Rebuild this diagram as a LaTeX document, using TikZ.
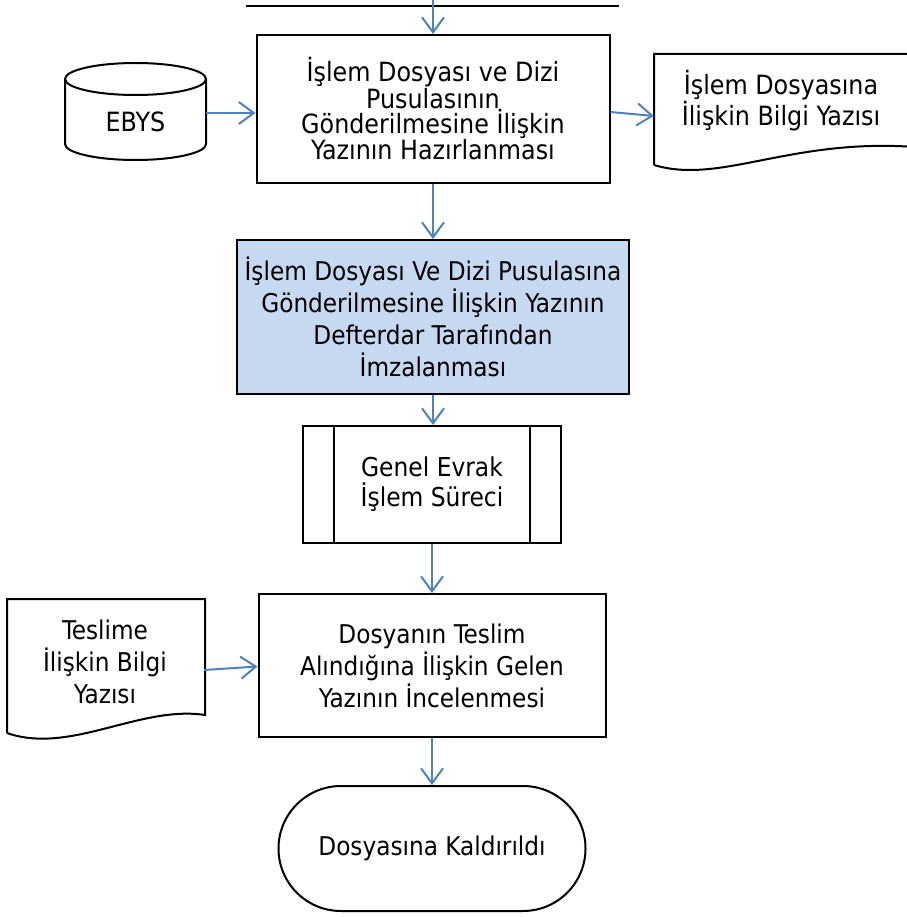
\documentclass[tikz,border=0pt]{standalone}
\usepackage{fontspec}
\setmainfont{DejaVu Sans Condensed}
\usepackage{xcolor}
\usetikzlibrary{arrows.meta,shapes.misc}
\definecolor{flowblue}{RGB}{79,129,189}
\definecolor{signfill}{RGB}{198,217,241}
\tikzset{
  stepbox/.style={draw,line width=2pt,align=center,inner sep=0pt},
  flow/.style={draw=flowblue,line width=2pt,-{Straight Barb[length=15pt,width=22pt]}},
  outline/.style={line width=2pt},
  wide/.style={font=\fontsize{25.8}{32}\selectfont},
  tight/.style={font=\fontsize{26.5}{25}\selectfont},
}

\begin{document}
\begin{tikzpicture}[x=1pt,y=1pt]
  \useasboundingbox (0,0) rectangle (906,-917);
  % line above the first step
  \coordinate (linel) at (246,-6);
  \coordinate (liner) at (619,-6);
  \coordinate (start) at (433,0);
  \draw[line width=1.5pt] (linel) -- (liner);

  % main column
  \node[stepbox,tight,minimum width=353,minimum height=148] (prepare) at (433,-109)
    {İşlem Dosyası ve Dizi\\Pusulasının\\Gönderilmesine İlişkin\\Yazının Hazırlanması};
  \node[stepbox,wide,fill=signfill,minimum width=392,minimum height=154] (sign) at (433,-317)
    {İşlem Dosyası Ve Dizi Pusulasına\\Gönderilmesine İlişkin Yazının\\Defterdar Tarafından\\İmzalanması};
  \node[stepbox,font=\fontsize{26}{30}\selectfont,minimum width=258,minimum height=117] (general) at (432,-484.5)
    {Genel Evrak\\İşlem Süreci};
  \draw[outline] ([xshift=32]general.north west) -- ([xshift=32]general.south west);
  \draw[outline] ([xshift=-32]general.north east) -- ([xshift=-32]general.south east);
  \node[stepbox,wide,minimum width=347,minimum height=143] (review) at (432,-665.5)
    {Dosyanın Teslim\\Alındığına İlişkin Gelen\\Yazının İncelenmesi};
  \node[stepbox,wide,rounded rectangle,minimum width=307,minimum height=125] (done) at (432,-848.5)
    {Dosyasına Kaldırıldı};

  % EBYS store
  \node[font=\fontsize{26.5}{30}\selectfont,minimum width=141] (ebys) at (135.5,-122) {EBYS};
  \draw[outline] (65,-79) -- (65,-144) arc[start angle=180,end angle=360,x radius=70.5,y radius=16] -- (206,-79);
  \draw[outline] (135.5,-79) ellipse[x radius=70.5,y radius=16];

  % documents
  \node[tight,align=center,minimum width=254] (infodoc) at (781,-101)
    {İşlem Dosyasına\\İlişkin Bilgi Yazısı};
  \draw[outline] (654,-165) -- (654,-54) -- (915,-54) -- (915,-147)
    .. controls (790,-138) and (720,-185) .. (654,-165);
  \node[wide,align=center,minimum width=198] (receipt) at (105,-662)
    {Teslime\\İlişkin Bilgi\\Yazısı};
  \draw[outline] (7,-733) -- (7,-599) -- (205,-599) -- (205,-715)
    .. controls (140,-705) and (70,-755) .. (7,-733);

  % connectors
  \draw[flow] (start) -- (prepare.north);
  \draw[flow] ([yshift=9]ebys.east) -- ([yshift=-4]prepare.west);
  \draw[flow] ([yshift=-3]prepare.east) -- ([yshift=-15]infodoc.west);
  \draw[flow] (prepare.south) -- (prepare.south |- sign.north);
  \draw[flow] (sign.south) -- (sign.south |- general.north);
  \draw[flow] (general.south) -- (review.north);
  \draw[flow] ([yshift=-8]receipt.east) -- ([yshift=-1]review.west);
  \draw[flow] (review.south) -- (done.north);
\end{tikzpicture}
\end{document}
